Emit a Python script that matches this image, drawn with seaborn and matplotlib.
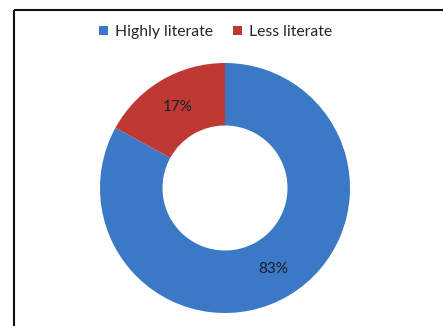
import matplotlib
matplotlib.use("Agg")
import matplotlib.pyplot as plt
from matplotlib.lines import Line2D
from matplotlib.patches import Patch
import numpy as np
import seaborn as sns

categories = ["Highly literate", "Less literate"]
shares = [83, 17]
pct_labels = ["83%", "17%"]
colors = ["#3b79c7", "#bf3934"]

sns.set_theme(style="white")
plt.rcParams["font.family"] = ["Lato", "DejaVu Sans"]

W, H = 443, 326
fig = plt.figure(figsize=(W / 100, H / 100), dpi=100)
fig.patch.set_facecolor("white")

# donut centred at (225, 188) px with outer radius 125 px
cx, cy, R = 225, 188, 125
ax = fig.add_axes([(cx - R) / W, (H - cy - R) / H, 2 * R / W, 2 * R / H])
wedges, _ = ax.pie(shares, colors=colors, startangle=90, counterclock=False,
                   radius=1.0, wedgeprops=dict(width=0.5, linewidth=0))
ax.set_xlim(-1, 1)
ax.set_ylim(-1, 1)
ax.set_aspect("equal")
ax.axis("off")

start = 90.0
total = float(sum(shares))
for val, lab in zip(shares, pct_labels):
    span = 360.0 * val / total
    mid = np.deg2rad(start - span / 2)
    ax.text(0.75 * np.cos(mid), 0.75 * np.sin(mid), lab, ha="center", va="center",
            fontsize=11, color="#1b1b2b")
    start -= span

handles = [Patch(facecolor=c, edgecolor="none") for c in colors]
fig.legend(handles, categories, loc="center", bbox_to_anchor=(0.487, 0.902),
           ncol=2, frameon=False, fontsize=11.3, handlelength=0.55, handleheight=0.55,
           handletextpad=0.45, columnspacing=1.3, borderpad=0)

# partial outer frame: left and top edges
fig.add_artist(Line2D([14 / W, 14 / W], [0, 1 - 10 / H], color="#111111", lw=1.5,
                      transform=fig.transFigure, solid_capstyle="butt"))
fig.add_artist(Line2D([14 / W, 1], [1 - 10 / H, 1 - 10 / H], color="#111111", lw=1.5,
                      transform=fig.transFigure, solid_capstyle="butt"))

fig.savefig("out.png", dpi=100, facecolor="white")
